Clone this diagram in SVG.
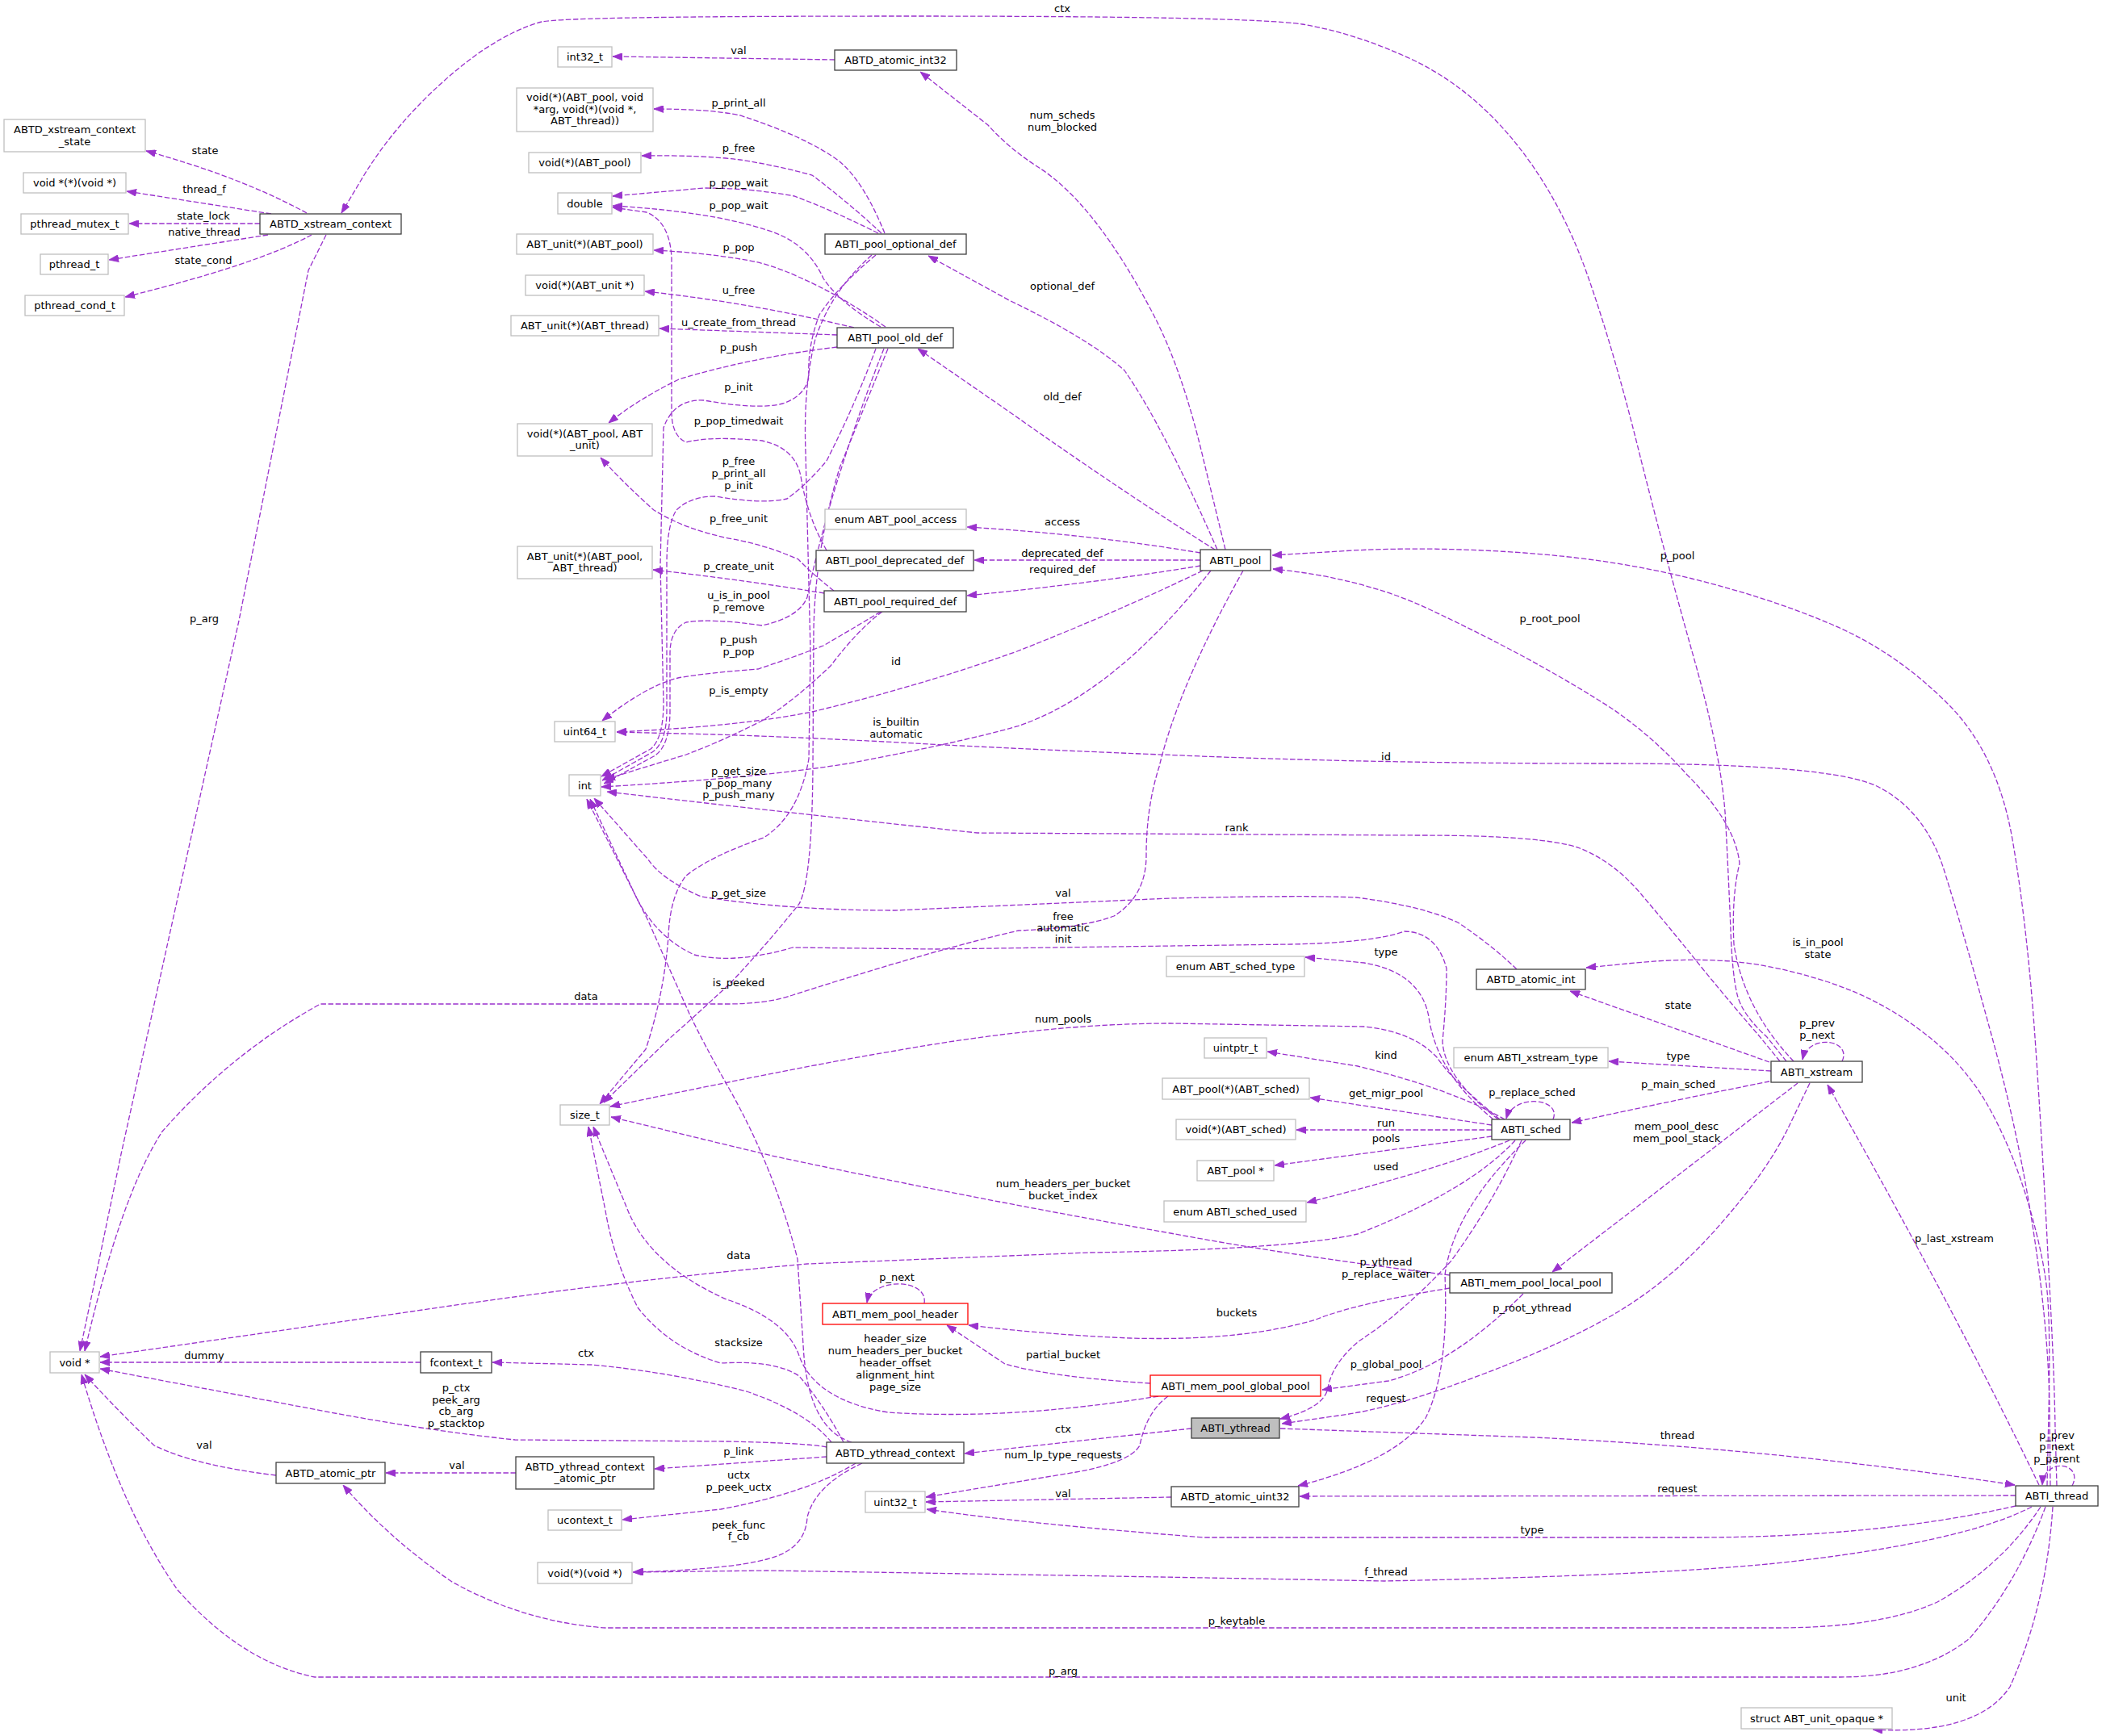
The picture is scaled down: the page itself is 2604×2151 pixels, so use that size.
<svg xmlns="http://www.w3.org/2000/svg" width="2604" height="2151" viewBox="0 0 2604 2151">
<style>
text{font-family:"DejaVu Sans","Liberation Sans",sans-serif;font-size:13px;fill:#000}
.n text,.l text{text-anchor:middle}
.g{fill:#fff;stroke:#bfbfbf;stroke-width:1.3}
.k{fill:#fff;stroke:#404040;stroke-width:1.3}
.r{fill:#fff;stroke:#ff0000;stroke-width:1.3}
.s{fill:#bfbfbf;stroke:#404040;stroke-width:1.3}
.e path{fill:none;stroke:#9a32cd;stroke-width:1.3;stroke-dasharray:6.5,2.6;marker-end:url(#a)}
</style>
<defs>
<marker id="a" markerUnits="userSpaceOnUse" markerWidth="12" markerHeight="9" refX="12" refY="4.5" orient="auto" viewBox="0 0 12 9"><path d="M0,0L12,4.5L0,9z" fill="#9a32cd" stroke="#9a32cd" stroke-width="0.8"/></marker>
</defs>
<rect width="2604" height="2151" fill="#fff"/>
<g id="edges" class="e">
<path d="M380,264 Q300,220 181,187"/>
<path d="M336,265 L157,237"/>
<path d="M322,277 L160,277"/>
<path d="M332,291 L135,322"/>
<path d="M386,291 Q320,327 155,368"/>
<path d="M404,291 L382,335 L296,769 L150,1430 L116,1594 L99,1674"/>
<path d="M2213,1315 L2189,1285 Q2158,1257 2152,1232 Q2146,1207 2144,1153 Q2142,1100 2138,1023 Q2135,946 2100,821 Q2065,697 2032,566 Q2000,436 1967,342 Q1934,248 1879,179 Q1824,110 1752,75 Q1680,41 1613,30 Q1547,20 1125,20 Q703,20 671,27 Q640,35 600,61 Q560,88 520,129 Q480,170 451,217 L423,264"/>
<path d="M2222,1315 Q2160,1250 2148,1170 Q2145,1110 2155,1070 Q2150,1020 2090,960 Q2050,915 2000,880 Q1900,815 1760,750 Q1680,715 1577,705"/>
<path d="M2192,1316 L1945,1228"/>
<path d="M2194,1327 L1993,1315"/>
<path d="M2192,1340 Q2080,1362 1947,1391"/>
<path d="M2227,1342 Q2100,1440 1923,1576"/>
<path d="M2242,1342 L2216,1396 Q2190,1450 2132,1516 Q2075,1582 2010,1622 Q1945,1662 1836,1703 Q1728,1745 1658,1754 L1588,1764"/>
<path d="M2282,1315 C2295,1288 2240,1280 2233,1313"/>
<path d="M2205,1315 L2178,1282 Q2150,1250 2109,1200 Q2069,1150 2034,1109 Q2000,1068 1957,1051 Q1914,1035 1757,1035 L1211,1032 Q976,1007 752,981"/>
<path d="M2526,1840 Q2420,1620 2264,1344"/>
<path d="M2567,1841 C2582,1812 2532,1805 2530,1840"/>
<path d="M2548,1841 L2546,1770 Q2545,1700 2538,1575 Q2532,1450 2522,1300 Q2512,1150 2493,1040 Q2474,931 2410,869 Q2347,807 2270,774 Q2193,741 2096,717 Q2000,693 1888,685 Q1776,677 1676,682 L1576,688"/>
<path d="M2540,1841 L2539,1745 Q2538,1650 2519,1525 Q2500,1400 2465,1275 Q2431,1150 2408,1077 Q2385,1005 2327,975 Q2270,946 1993,946 Q1717,946 1488,937 Q1260,928 1133,921 Q1006,914 884,910 L764,907"/>
<path d="M2536,1841 L2538,1750 Q2540,1660 2537,1612 Q2534,1564 2513,1492 Q2492,1421 2461,1367 Q2430,1314 2377,1275 Q2325,1236 2262,1216 Q2200,1196 2144,1191 Q2088,1187 2026,1193 L1965,1199"/>
<path d="M2497,1853 L1610,1854"/>
<path d="M1586,1770 L1900,1781 Q2200,1795 2496,1840"/>
<path d="M2497,1866 Q2325,1905 2100,1905 L1492,1905 Q1269,1888 1148,1870"/>
<path d="M2517,1867 Q2430,1912 2200,1937 Q2050,1952 1715,1959 Q1396,1953 950,1946 L785,1948"/>
<path d="M2528,1867 Q2480,1940 2400,1985 Q2330,2017 2200,2017 L750,2017 Q650,2010 560,1960 Q480,1905 425,1840"/>
<path d="M2534,1867 Q2500,1960 2440,2030 Q2380,2078 2280,2078 L390,2078 Q300,2060 220,1970 Q150,1870 101,1703"/>
<path d="M2543,1867 Q2535,1990 2490,2090 Q2450,2150 2320,2143"/>
<path d="M1476,1770 L1195,1801"/>
<path d="M1850,1387 Q1780,1330 1770,1260 Q1760,1205 1690,1193 L1617,1186"/>
<path d="M1864,1387 Q1800,1350 1682,1321 L1570,1303"/>
<path d="M1848,1394 L1623,1360"/>
<path d="M1848,1400 L1606,1400"/>
<path d="M1848,1408 L1579,1444"/>
<path d="M1870,1413 Q1780,1450 1619,1490"/>
<path d="M1924,1387 C1935,1360 1875,1355 1866,1386"/>
<path d="M1858,1387 Q1800,1340 1780,1310 Q1750,1278 1690,1272 L1450,1268 Q1300,1268 1109,1302 Q1000,1320 756,1371"/>
<path d="M1856,1387 Q1789,1335 1787,1290 Q1792,1240 1792,1200 Q1780,1155 1740,1154 Q1700,1168 1600,1170 L1160,1176 L982,1174 Q910,1195 860,1183 Q810,1160 785,1105 L731,990"/>
<path d="M1877,1413 Q1820,1475 1682,1529 Q1600,1548 1350,1552 L1000,1566 Q765,1587 510,1625 L124,1681"/>
<path d="M1885,1413 Q1850,1490 1798,1562 Q1740,1625 1683,1662 Q1650,1690 1645,1720 Q1640,1745 1586,1758"/>
<path d="M1890,1413 Q1800,1500 1790,1580 Q1795,1700 1766,1757 Q1730,1810 1608,1841"/>
<path d="M1796,1580 Q1600,1556 1450,1528 Q1200,1484 956,1432 L757,1384"/>
<path d="M1796,1596 Q1680,1615 1630,1635 Q1540,1662 1400,1658 Q1300,1654 1200,1642"/>
<path d="M1887,1603 Q1800,1690 1720,1711 L1638,1722"/>
<path d="M1425,1714 Q1300,1706 1245,1690 Q1215,1670 1173,1642"/>
<path d="M1145,1615 C1150,1583 1080,1583 1074,1614"/>
<path d="M1435,1730 Q1250,1760 1100,1750 Q1010,1735 990,1680 Q975,1635 900,1610 Q810,1570 780,1505 L735,1396"/>
<path d="M1045,1787 Q1020,1740 990,1705 Q960,1685 893,1689 Q829,1670 790,1620 Q760,1560 750,1500 L729,1396"/>
<path d="M1055,1787 Q1000,1770 995,1666 L988,1560 Q960,1450 905,1352 Q870,1290 854,1256 L803,1141 L727,990"/>
<path d="M1030,1787 Q1000,1750 925,1724 Q830,1700 733,1691 L610,1688"/>
<path d="M1024,1793 Q1000,1788 900,1786 L638,1784 Q523,1772 383,1745 L124,1696"/>
<path d="M1024,1805 L811,1820"/>
<path d="M1060,1813 Q1000,1850 893,1870 L771,1883"/>
<path d="M1068,1813 Q1010,1840 1000,1880 Q998,1920 950,1932 Q900,1945 784,1948"/>
<path d="M639,1825 L478,1825"/>
<path d="M342,1828 Q242,1816 191,1791 Q147,1749 105,1703"/>
<path d="M521,1688 L124,1688"/>
<path d="M1451,1855 L1147,1861"/>
<path d="M1447,1730 Q1420,1750 1412,1791 Q1400,1812 1333,1824 L1147,1855"/>
<path d="M1518,681 L1491,570 Q1465,459 1429,390 Q1393,321 1357,275 Q1322,230 1286,207 Q1250,184 1224,155 L1140,89"/>
<path d="M1508,681 Q1441,528 1393,459 Q1350,420 1250,372 L1150,317"/>
<path d="M1505,681 Q1393,611 1250,510 L1137,432"/>
<path d="M1487,685 Q1350,662 1198,653"/>
<path d="M1487,694 L1207,694"/>
<path d="M1487,701 Q1360,722 1198,738"/>
<path d="M1490,707 Q1380,760 1260,807 Q1140,850 1006,882 Q917,900 764,907"/>
<path d="M1500,707 Q1380,860 1260,900 Q1185,921 1051,946 Q939,964 745,975"/>
<path d="M1540,707 Q1460,850 1436,950 Q1420,1000 1420,1060 Q1420,1110 1380,1135 Q1340,1150 1262,1153 Q1160,1176 982,1233 Q950,1244 900,1244 L397,1244 Q287,1304 201,1402 Q150,1480 105,1674"/>
<path d="M1034,74 L759,70"/>
<path d="M1096,289 Q1070,225 1040,200 Q1000,170 917,143 Q880,135 810,135"/>
<path d="M1092,289 Q1050,250 1006,217 Q962,205 917,198 Q870,192 795,193"/>
<path d="M1088,289 Q1030,260 984,243 Q930,233 872,233 L759,243"/>
<path d="M1091,405 Q1040,375 1020,345 Q1000,300 950,285 Q880,262 759,255"/>
<path d="M1097,405 Q1040,365 989,343 Q950,325 917,321 Q870,313 810,310"/>
<path d="M1058,406 Q930,375 799,361"/>
<path d="M1037,415 L817,407"/>
<path d="M1037,430 Q930,443 841,470 Q790,495 754,524"/>
<path d="M1085,316 Q1040,353 1015,390 Q1000,430 1002,467 Q998,490 970,500 Q940,508 872,496 Q835,494 822,530 L818,700 L822,870 Q822,915 806,928 L745,962"/>
<path d="M1024,682 Q1000,640 992,590 Q985,555 944,546 Q880,540 850,548 Q832,540 832,510 L832,320 Q830,275 801,263 L759,257"/>
<path d="M1085,432 Q1060,500 1024,571 Q1000,600 975,618 Q944,625 886,615 Q855,615 838,632 Q826,650 826,700 L826,880 Q826,920 808,932 L746,967"/>
<path d="M1095,432 Q1060,520 1030,620 Q1010,690 1000,740 Q990,765 944,775 Q881,766 850,771 Q830,780 830,810 L830,880 Q830,925 810,937 L748,971"/>
<path d="M1033,732 Q1006,711 989,693 Q948,675 908,668 Q850,657 810,632 Q774,600 744,567"/>
<path d="M1021,735 Q917,718 809,706"/>
<path d="M1091,758 Q1051,782 1020,800 Q984,814 939,829 Q872,834 840,840 Q800,850 746,893"/>
<path d="M1093,758 Q1064,779 1029,825 Q984,868 944,893 Q895,918 850,935 Q800,950 750,966"/>
<path d="M1080,316 Q1030,360 1010,420 Q995,480 998,560 L1004,807 L1002,940 Q990,1010 946,1038 Q880,1061 850,1085 Q830,1110 828,1160 Q823,1230 800,1300 L743,1368"/>
<path d="M1100,432 Q1064,521 1040,580 Q1010,680 1008,780 L1007,950 Q1006,1090 990,1120 Q950,1170 905,1218 Q860,1260 829,1287 L748,1366"/>
<path d="M1879,1201 Q1848,1171 1806,1143 Q1760,1122 1680,1112 Q1619,1109 1450,1113 L1109,1128 Q976,1128 869,1111 Q820,1090 803,1065 L736,989"/>
</g>
<g id="labels" class="l">
<text x="1316" y="15">ctx</text>
<text x="915" y="67">val</text>
<text x="1316" y="147">num_scheds</text><text x="1316" y="162">num_blocked</text>
<text x="254" y="191">state</text>
<text x="253" y="239">thread_f</text>
<text x="252" y="272">state_lock</text>
<text x="253" y="292">native_thread</text>
<text x="252" y="327">state_cond</text>
<text x="915" y="132">p_print_all</text>
<text x="915" y="188">p_free</text>
<text x="915" y="231">p_pop_wait</text>
<text x="915" y="259">p_pop_wait</text>
<text x="915" y="311">p_pop</text>
<text x="915" y="364">u_free</text>
<text x="915" y="404">u_create_from_thread</text>
<text x="915" y="435">p_push</text>
<text x="915" y="484">p_init</text>
<text x="915" y="526">p_pop_timedwait</text>
<text x="915" y="576">p_free</text><text x="915" y="591">p_print_all</text><text x="915" y="606">p_init</text>
<text x="915" y="647">p_free_unit</text>
<text x="915" y="706">p_create_unit</text>
<text x="915" y="742">u_is_in_pool</text><text x="915" y="757">p_remove</text>
<text x="915" y="797">p_push</text><text x="915" y="812">p_pop</text>
<text x="915" y="860">p_is_empty</text>
<text x="1110" y="824">id</text>
<text x="1110" y="899">is_builtin</text><text x="1110" y="914">automatic</text>
<text x="915" y="960">p_get_size</text><text x="915" y="975">p_pop_many</text><text x="915" y="989">p_push_many</text>
<text x="915" y="1111">p_get_size</text>
<text x="1317" y="1111">val</text>
<text x="1317" y="1140">free</text><text x="1317" y="1154">automatic</text><text x="1317" y="1168">init</text>
<text x="915" y="1222">is_peeked</text>
<text x="726" y="1239">data</text>
<text x="1317" y="1267">num_pools</text>
<text x="1317" y="1471">num_headers_per_bucket</text><text x="1317" y="1486">bucket_index</text>
<text x="915" y="1560">data</text>
<text x="1316" y="359">optional_def</text>
<text x="1316" y="496">old_def</text>
<text x="1316" y="651">access</text>
<text x="1316" y="690">deprecated_def</text>
<text x="1316" y="710">required_def</text>
<text x="2078" y="693">p_pool</text>
<text x="1920" y="771">p_root_pool</text>
<text x="1717" y="942">id</text>
<text x="1532" y="1030">rank</text>
<text x="1717" y="1184">type</text>
<text x="1717" y="1312">kind</text>
<text x="1717" y="1359">get_migr_pool</text>
<text x="1717" y="1396">run</text>
<text x="1717" y="1415">pools</text>
<text x="1717" y="1450">used</text>
<text x="1898" y="1358">p_replace_sched</text>
<text x="2252" y="1172">is_in_pool</text><text x="2252" y="1187">state</text>
<text x="2079" y="1250">state</text>
<text x="2251" y="1272">p_prev</text><text x="2251" y="1287">p_next</text>
<text x="2079" y="1313">type</text>
<text x="2079" y="1348">p_main_sched</text>
<text x="2077" y="1400">mem_pool_desc</text><text x="2077" y="1415">mem_pool_stack</text>
<text x="2421" y="1539">p_last_xstream</text>
<text x="2078" y="1783">thread</text>
<text x="2078" y="1849">request</text>
<text x="2548" y="1783">p_prev</text><text x="2548" y="1797">p_next</text><text x="2548" y="1812">p_parent</text>
<text x="2423" y="2108">unit</text>
<text x="253" y="1684">dummy</text>
<text x="726" y="1681">ctx</text>
<text x="915" y="1668">stacksize</text>
<text x="565" y="1724">p_ctx</text><text x="565" y="1739">peek_arg</text><text x="565" y="1753">cb_arg</text><text x="565" y="1768">p_stacktop</text>
<text x="253" y="1795">val</text>
<text x="566" y="1820">val</text>
<text x="915" y="1803">p_link</text>
<text x="915" y="1832">uctx</text><text x="915" y="1847">p_peek_uctx</text>
<text x="915" y="1894">peek_func</text><text x="915" y="1908">f_cb</text>
<text x="1111" y="1587">p_next</text>
<text x="1717" y="1568">p_ythread</text><text x="1717" y="1583">p_replace_waiter</text>
<text x="1532" y="1631">buckets</text>
<text x="1898" y="1625">p_root_ythread</text>
<text x="1109" y="1663">header_size</text><text x="1109" y="1678">num_headers_per_bucket</text><text x="1109" y="1693">header_offset</text><text x="1109" y="1708">alignment_hint</text><text x="1109" y="1723">page_size</text>
<text x="1317" y="1683">partial_bucket</text>
<text x="1717" y="1695">p_global_pool</text>
<text x="1717" y="1737">request</text>
<text x="1317" y="1775">ctx</text>
<text x="1317" y="1807">num_lp_type_requests</text>
<text x="1317" y="1855">val</text>
<text x="1898" y="1900">type</text>
<text x="1717" y="1952">f_thread</text>
<text x="1532" y="2013">p_keytable</text>
<text x="1317" y="2075">p_arg</text>
<text x="253" y="771">p_arg</text>
</g>
<g id="n1" class="n"><rect class="g" x="5" y="148" width="175" height="40"/><text x="92.5" y="165">ABTD_xstream_context</text><text x="92.5" y="180">_state</text></g>
<g id="n2" class="n"><rect class="g" x="29" y="214" width="127" height="25"/><text x="92.5" y="231">void *(*)(void *)</text></g>
<g id="n3" class="n"><rect class="g" x="26" y="265" width="133" height="25"/><text x="92.5" y="282">pthread_mutex_t</text></g>
<g id="n4" class="n"><rect class="g" x="50" y="315" width="84" height="25"/><text x="92" y="332">pthread_t</text></g>
<g id="n5" class="n"><rect class="g" x="31" y="366" width="123" height="25"/><text x="92.5" y="383">pthread_cond_t</text></g>
<g id="n6" class="n"><rect class="k" x="322" y="265" width="175" height="25"/><text x="409.5" y="282">ABTD_xstream_context</text></g>
<g id="n7" class="n"><rect class="g" x="691" y="58" width="67" height="25"/><text x="724.5" y="75">int32_t</text></g>
<g id="n8" class="n"><rect class="k" x="1034" y="62" width="151" height="25"/><text x="1109.5" y="79">ABTD_atomic_int32</text></g>
<g id="n9" class="n"><rect class="g" x="640" y="109" width="169" height="54"/><text x="724.5" y="125">void(*)(ABT_pool, void</text><text x="724.5" y="139.5">*arg, void(*)(void *,</text><text x="724.5" y="154">ABT_thread))</text></g>
<g id="n10" class="n"><rect class="g" x="655" y="189" width="139" height="25"/><text x="724.5" y="206">void(*)(ABT_pool)</text></g>
<g id="n11" class="n"><rect class="g" x="691" y="239" width="67" height="26"/><text x="724.5" y="256.5">double</text></g>
<g id="n12" class="n"><rect class="g" x="640" y="290" width="169" height="25"/><text x="724.5" y="307">ABT_unit(*)(ABT_pool)</text></g>
<g id="n13" class="n"><rect class="g" x="651" y="341" width="147" height="25"/><text x="724.5" y="358">void(*)(ABT_unit *)</text></g>
<g id="n14" class="n"><rect class="g" x="633" y="391" width="183" height="25"/><text x="724.5" y="408">ABT_unit(*)(ABT_thread)</text></g>
<g id="n15" class="n"><rect class="k" x="1022" y="290" width="175" height="25"/><text x="1109.5" y="307">ABTI_pool_optional_def</text></g>
<g id="n16" class="n"><rect class="k" x="1037" y="406" width="144" height="25"/><text x="1109" y="423">ABTI_pool_old_def</text></g>
<g id="n17" class="n"><rect class="g" x="641" y="525" width="167" height="40"/><text x="724.5" y="541.5">void(*)(ABT_pool, ABT</text><text x="724.5" y="556">_unit)</text></g>
<g id="n18" class="n"><rect class="g" x="641" y="677" width="167" height="40"/><text x="724.5" y="693.5">ABT_unit(*)(ABT_pool,</text><text x="724.5" y="708">ABT_thread)</text></g>
<g id="n19" class="n"><rect class="g" x="687" y="894" width="75" height="25"/><text x="724.5" y="911">uint64_t</text></g>
<g id="n20" class="n"><rect class="g" x="705" y="960" width="39" height="26"/><text x="724.5" y="977.5">int</text></g>
<g id="n21" class="n"><rect class="g" x="1022" y="631" width="175" height="25"/><text x="1109.5" y="648">enum ABT_pool_access</text></g>
<g id="n22" class="n"><rect class="k" x="1011" y="682" width="195" height="25"/><text x="1108.5" y="699">ABTI_pool_deprecated_def</text></g>
<g id="n23" class="n"><rect class="k" x="1021" y="732" width="176" height="26"/><text x="1109" y="749.5">ABTI_pool_required_def</text></g>
<g id="n24" class="n"><rect class="k" x="1487" y="681" width="87" height="26"/><text x="1530.5" y="698.5">ABTI_pool</text></g>
<g id="n25" class="n"><rect class="g" x="1445" y="1185" width="171" height="25"/><text x="1530.5" y="1202">enum ABT_sched_type</text></g>
<g id="n26" class="n"><rect class="k" x="1829" y="1201" width="135" height="25"/><text x="1896.5" y="1218">ABTD_atomic_int</text></g>
<g id="n27" class="n"><rect class="g" x="1492" y="1286" width="77" height="25"/><text x="1530.5" y="1303">uintptr_t</text></g>
<g id="n28" class="n"><rect class="g" x="1801" y="1298" width="191" height="25"/><text x="1896.5" y="1315">enum ABTI_xstream_type</text></g>
<g id="n29" class="n"><rect class="g" x="1440" y="1336" width="182" height="26"/><text x="1531" y="1353.5">ABT_pool(*)(ABT_sched)</text></g>
<g id="n30" class="n"><rect class="g" x="1457" y="1387" width="148" height="25"/><text x="1531" y="1404">void(*)(ABT_sched)</text></g>
<g id="n31" class="n"><rect class="k" x="1848" y="1387" width="97" height="25"/><text x="1896.5" y="1404">ABTI_sched</text></g>
<g id="n32" class="n"><rect class="g" x="1483" y="1438" width="95" height="25"/><text x="1530.5" y="1455">ABT_pool *</text></g>
<g id="n33" class="n"><rect class="g" x="1442" y="1488" width="176" height="26"/><text x="1530" y="1505.5">enum ABTI_sched_used</text></g>
<g id="n34" class="n"><rect class="k" x="2194" y="1315" width="113" height="26"/><text x="2250.5" y="1332.5">ABTI_xstream</text></g>
<g id="n35" class="n"><rect class="g" x="694" y="1369" width="61" height="25"/><text x="724.5" y="1386">size_t</text></g>
<g id="n36" class="n"><rect class="k" x="1796" y="1577" width="201" height="25"/><text x="1896.5" y="1594">ABTI_mem_pool_local_pool</text></g>
<g id="n37" class="n"><rect class="r" x="1019" y="1615" width="180" height="26"/><text x="1109" y="1632.5">ABTI_mem_pool_header</text></g>
<g id="n38" class="n"><rect class="r" x="1425" y="1704" width="211" height="26"/><text x="1530.5" y="1721.5">ABTI_mem_pool_global_pool</text></g>
<g id="n39" class="n"><rect class="s" x="1476" y="1757" width="109" height="25"/><text x="1530.5" y="1774">ABTI_ythread</text></g>
<g id="n40" class="n"><rect class="k" x="1024" y="1787" width="170" height="26"/><text x="1109" y="1804.5">ABTD_ythread_context</text></g>
<g id="n41" class="n"><rect class="g" x="1072" y="1848" width="74" height="26"/><text x="1109" y="1865.5">uint32_t</text></g>
<g id="n42" class="n"><rect class="k" x="1451" y="1842" width="158" height="25"/><text x="1530" y="1859">ABTD_atomic_uint32</text></g>
<g id="n43" class="n"><rect class="k" x="2497" y="1841" width="102" height="25"/><text x="2548" y="1858">ABTI_thread</text></g>
<g id="n44" class="n"><rect class="g" x="2157" y="2116" width="187" height="26"/><text x="2250.5" y="2133.5">struct ABT_unit_opaque *</text></g>
<g id="n45" class="n"><rect class="g" x="62" y="1675" width="61" height="26"/><text x="92.5" y="1692.5">void *</text></g>
<g id="n46" class="n"><rect class="k" x="521" y="1675" width="88" height="26"/><text x="565" y="1692.5">fcontext_t</text></g>
<g id="n47" class="n"><rect class="k" x="342" y="1812" width="135" height="26"/><text x="409.5" y="1829.5">ABTD_atomic_ptr</text></g>
<g id="n48" class="n"><rect class="k" x="639" y="1805" width="171" height="40"/><text x="724.5" y="1821.5">ABTD_ythread_context</text><text x="724.5" y="1836">_atomic_ptr</text></g>
<g id="n49" class="n"><rect class="g" x="679" y="1871" width="91" height="25"/><text x="724.5" y="1888">ucontext_t</text></g>
<g id="n50" class="n"><rect class="g" x="666" y="1936" width="117" height="26"/><text x="724.5" y="1953.5">void(*)(void *)</text></g>
</svg>
